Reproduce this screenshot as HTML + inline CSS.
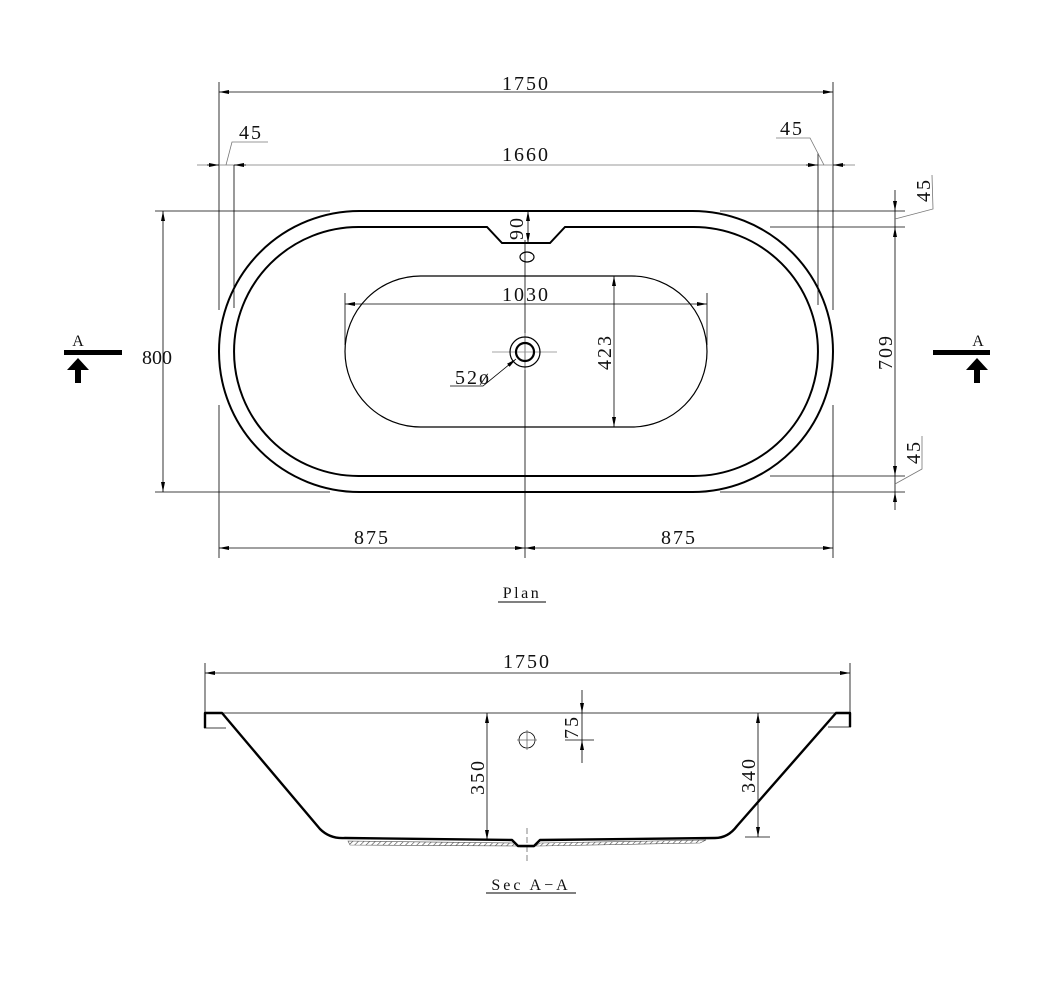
<!DOCTYPE html>
<html><head><meta charset="utf-8"><style>
html,body{margin:0;padding:0;background:#fff;}
svg{display:block}
text{font-family:"Liberation Serif",serif;fill:#111;}
</style></head><body>
<svg width="1057" height="987" viewBox="0 0 1057 987" xmlns="http://www.w3.org/2000/svg">
<defs>
<marker id="ar" viewBox="0 0 10 4" refX="10" refY="2" markerWidth="10" markerHeight="4" orient="auto-start-reverse" markerUnits="userSpaceOnUse"><path d="M0,0 L10,2 L0,4z" fill="#000"/></marker>
<pattern id="h" width="4" height="4" patternUnits="userSpaceOnUse" patternTransform="rotate(45)"><line x1="0" y1="0" x2="0" y2="4" stroke="#444" stroke-width="1.2"/></pattern>
</defs>
<g stroke="#000" stroke-width="0.8" fill="none">
<line x1="219" y1="82" x2="219" y2="310"/><line x1="833" y1="82" x2="833" y2="310"/>
<line x1="219" y1="92" x2="833" y2="92" marker-start="url(#ar)" marker-end="url(#ar)"/>
<line x1="197" y1="165" x2="855" y2="165" stroke="#777"/>
<line x1="207" y1="165" x2="219" y2="165" marker-end="url(#ar)"/><line x1="246" y1="165" x2="234" y2="165" marker-end="url(#ar)"/>
<line x1="806" y1="165" x2="818" y2="165" marker-end="url(#ar)"/><line x1="845" y1="165" x2="833" y2="165" marker-end="url(#ar)"/>
<line x1="234" y1="165" x2="234" y2="308"/><line x1="818" y1="153" x2="818" y2="305"/>
<polyline points="226,165 232,142 268,142" stroke="#777"/>
<polyline points="824,165 810,138 776,138" stroke="#777"/>
<line x1="155" y1="211" x2="330" y2="211"/><line x1="720" y1="211" x2="905" y2="211"/>
<line x1="770" y1="227" x2="905" y2="227"/>
<line x1="155" y1="492" x2="330" y2="492"/><line x1="720" y1="492" x2="905" y2="492"/>
<line x1="770" y1="476" x2="905" y2="476"/>
<line x1="163" y1="211" x2="163" y2="492" marker-start="url(#ar)" marker-end="url(#ar)"/>
<line x1="895" y1="190" x2="895" y2="211" marker-end="url(#ar)"/>
<line x1="895" y1="227" x2="895" y2="476" marker-start="url(#ar)" marker-end="url(#ar)"/>
<line x1="895" y1="510" x2="895" y2="492" marker-end="url(#ar)"/>
<line x1="895" y1="211" x2="895" y2="227"/><line x1="895" y1="476" x2="895" y2="492"/>
<polyline points="895,219 933,209 932,175" stroke="#777"/>
<polyline points="895,484 922,469 922,436" stroke="#777"/>
<line x1="219" y1="405" x2="219" y2="558"/><line x1="833" y1="405" x2="833" y2="558"/>
<line x1="525" y1="240" x2="525" y2="558"/>
<line x1="219" y1="548" x2="525" y2="548" marker-start="url(#ar)" marker-end="url(#ar)"/>
<line x1="525" y1="548" x2="833" y2="548" marker-start="url(#ar)" marker-end="url(#ar)"/>
<line x1="345" y1="293" x2="345" y2="345"/><line x1="707" y1="293" x2="707" y2="345"/>
<line x1="345" y1="304" x2="707" y2="304" marker-start="url(#ar)" marker-end="url(#ar)"/>
<line x1="614" y1="276" x2="614" y2="427" marker-start="url(#ar)" marker-end="url(#ar)"/>
<line x1="528" y1="211" x2="528" y2="243" marker-start="url(#ar)" marker-end="url(#ar)"/>
<line x1="492" y1="352" x2="557" y2="352" stroke="#888"/>
<line x1="525" y1="333" x2="525" y2="370" stroke="#888"/>
<polyline points="450,386 483,386 516,359" marker-end="url(#ar)"/>
</g>
<g stroke="#000" fill="none">
<path d="M359.5,211 H692.5 A140.5,140.5 0 0 1 692.5,492 H359.5 A140.5,140.5 0 0 1 359.5,211 Z" stroke-width="2"/>
<path d="M358.5,227 H487 L502,243 H550 L565,227 H693.5 A124.5,124.5 0 0 1 693.5,476 H358.5 A124.5,124.5 0 0 1 358.5,227 Z" stroke-width="2"/>
<path d="M420.5,276 H631.5 A75.5,75.5 0 0 1 631.5,427 H420.5 A75.5,75.5 0 0 1 420.5,276 Z" stroke-width="1.2"/>
<ellipse cx="527" cy="257" rx="7" ry="5" stroke-width="1.2"/>
<circle cx="525" cy="352" r="15" stroke-width="1.2"/>
<circle cx="525" cy="352" r="9" stroke-width="2.2"/>
</g>
<g fill="#000">
<rect x="64" y="350" width="58" height="5"/>
<polygon points="78,358 67,370 75,370 75,383 81,383 81,370 89,370"/>
<rect x="933" y="350" width="57" height="5"/>
<polygon points="977,358 966,370 974,370 974,383 980,383 980,370 988,370"/>
</g>
<g font-size="20" letter-spacing="2">
<text x="526" y="90" text-anchor="middle">1750</text>
<text x="526" y="161" text-anchor="middle">1660</text>
<text x="251" y="139" text-anchor="middle">45</text>
<text x="792" y="135" text-anchor="middle">45</text>
<text x="526" y="301" text-anchor="middle">1030</text>
<text x="157" y="364" text-anchor="middle" letter-spacing="0">800</text>
<text x="473" y="384" text-anchor="middle">52ø</text>
<text x="372" y="544" text-anchor="middle">875</text>
<text x="679" y="544" text-anchor="middle">875</text>
<text x="78" y="346" text-anchor="middle" font-size="16" letter-spacing="0">A</text>
<text x="978" y="346" text-anchor="middle" font-size="16" letter-spacing="0">A</text>
<text transform="translate(523,228) rotate(-90)" text-anchor="middle">90</text>
<text transform="translate(611,352) rotate(-90)" text-anchor="middle">423</text>
<text transform="translate(892,352) rotate(-90)" text-anchor="middle">709</text>
<text transform="translate(930,190) rotate(-90)" text-anchor="middle">45</text>
<text transform="translate(920,452) rotate(-90)" text-anchor="middle">45</text>
<text x="522" y="598" text-anchor="middle" font-size="16" letter-spacing="2.5">Plan</text>
</g>
<line x1="498" y1="602" x2="546" y2="602" stroke="#000" stroke-width="1"/>
<g stroke="#000" stroke-width="0.8" fill="none">
<line x1="205" y1="663" x2="205" y2="712"/><line x1="850" y1="663" x2="850" y2="712"/>
<line x1="205" y1="673" x2="850" y2="673" marker-start="url(#ar)" marker-end="url(#ar)"/>
<line x1="222" y1="713" x2="836" y2="713"/>
<line x1="487" y1="713" x2="487" y2="840" marker-start="url(#ar)" marker-end="url(#ar)"/>
<line x1="758" y1="713" x2="758" y2="837" marker-start="url(#ar)" marker-end="url(#ar)"/>
<line x1="745" y1="837" x2="770" y2="837"/>
<line x1="582" y1="690" x2="582" y2="713" marker-end="url(#ar)"/>
<line x1="582" y1="763" x2="582" y2="740" marker-end="url(#ar)"/>
<line x1="582" y1="713" x2="582" y2="740"/>
<line x1="565" y1="740" x2="594" y2="740"/>
<circle cx="527" cy="740" r="8"/>
<line x1="517" y1="740" x2="537" y2="740" stroke="#666"/><line x1="527" y1="730" x2="527" y2="750" stroke="#666"/>
<line x1="527" y1="828" x2="527" y2="862" stroke="#666" stroke-dasharray="6,3"/>
<line x1="204" y1="728" x2="226" y2="728"/><line x1="828" y1="727" x2="851" y2="727"/>
</g>
<path d="M348,841 L515,843 L520,847 L534,847 L540,843 L706,840 L700,843 L540,846 L515,846 L350,845Z" fill="url(#h)" stroke="#555" stroke-width="0.6"/>
<path d="M205,728 V713 H220 L222,713 L320,829 Q330,839 345,838 L512,840 L518,846 H534 L540,840 L715,838 Q728,838 737,826 L836,713 H850 V727" fill="none" stroke="#000" stroke-width="2.4" stroke-linejoin="round"/>
<g font-size="20" letter-spacing="2">
<text x="527" y="668" text-anchor="middle">1750</text>
<text transform="translate(484,777) rotate(-90)" text-anchor="middle">350</text>
<text transform="translate(755,775) rotate(-90)" text-anchor="middle">340</text>
<text transform="translate(578,727) rotate(-90)" text-anchor="middle">75</text>
<text x="531" y="890" text-anchor="middle" font-size="16" letter-spacing="3">Sec A−A</text>
</g>
<line x1="486" y1="893" x2="576" y2="893" stroke="#000" stroke-width="1"/>
</svg>
</body></html>
